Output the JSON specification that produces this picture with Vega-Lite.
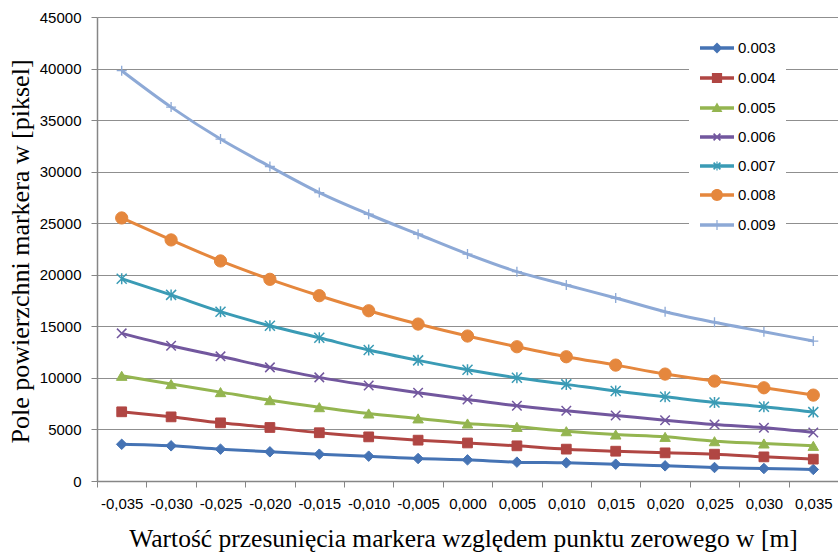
{
  "$schema": "https://vega.github.io/schema/vega-lite/v6.json",
  "width": 741,
  "height": 464,
  "autosize": {"type": "none"},
  "padding": {"left": 97, "top": 17, "right": 0, "bottom": 72},
  "background": "white",
  "config": {"view": {"stroke": null}, "font": "Liberation Sans"},
  "data": {"values": [
    {"x": "-0,035", "s": "0.003", "v": 3560}, {"x": "-0,030", "s": "0.003", "v": 3410}, {"x": "-0,025", "s": "0.003", "v": 3090}, {"x": "-0,020", "s": "0.003", "v": 2830}, {"x": "-0,015", "s": "0.003", "v": 2600}, {"x": "-0,010", "s": "0.003", "v": 2410}, {"x": "-0,005", "s": "0.003", "v": 2180}, {"x": "0,000", "s": "0.003", "v": 2050}, {"x": "0,005", "s": "0.003", "v": 1830}, {"x": "0,010", "s": "0.003", "v": 1760}, {"x": "0,015", "s": "0.003", "v": 1630}, {"x": "0,020", "s": "0.003", "v": 1470}, {"x": "0,025", "s": "0.003", "v": 1310}, {"x": "0,030", "s": "0.003", "v": 1210}, {"x": "0,035", "s": "0.003", "v": 1120},
    {"x": "-0,035", "s": "0.004", "v": 6710}, {"x": "-0,030", "s": "0.004", "v": 6220}, {"x": "-0,025", "s": "0.004", "v": 5640}, {"x": "-0,020", "s": "0.004", "v": 5190}, {"x": "-0,015", "s": "0.004", "v": 4680}, {"x": "-0,010", "s": "0.004", "v": 4280}, {"x": "-0,005", "s": "0.004", "v": 3960}, {"x": "0,000", "s": "0.004", "v": 3690}, {"x": "0,005", "s": "0.004", "v": 3410}, {"x": "0,010", "s": "0.004", "v": 3090}, {"x": "0,015", "s": "0.004", "v": 2890}, {"x": "0,020", "s": "0.004", "v": 2730}, {"x": "0,025", "s": "0.004", "v": 2600}, {"x": "0,030", "s": "0.004", "v": 2340}, {"x": "0,035", "s": "0.004", "v": 2120},
    {"x": "-0,035", "s": "0.005", "v": 10200}, {"x": "-0,030", "s": "0.005", "v": 9400}, {"x": "-0,025", "s": "0.005", "v": 8620}, {"x": "-0,020", "s": "0.005", "v": 7840}, {"x": "-0,015", "s": "0.005", "v": 7160}, {"x": "-0,010", "s": "0.005", "v": 6550}, {"x": "-0,005", "s": "0.005", "v": 6070}, {"x": "0,000", "s": "0.005", "v": 5580}, {"x": "0,005", "s": "0.005", "v": 5250}, {"x": "0,010", "s": "0.005", "v": 4830}, {"x": "0,015", "s": "0.005", "v": 4510}, {"x": "0,020", "s": "0.005", "v": 4280}, {"x": "0,025", "s": "0.005", "v": 3860}, {"x": "0,030", "s": "0.005", "v": 3640}, {"x": "0,035", "s": "0.005", "v": 3410},
    {"x": "-0,035", "s": "0.006", "v": 14320}, {"x": "-0,030", "s": "0.006", "v": 13120}, {"x": "-0,025", "s": "0.006", "v": 12090}, {"x": "-0,020", "s": "0.006", "v": 11020}, {"x": "-0,015", "s": "0.006", "v": 10050}, {"x": "-0,010", "s": "0.006", "v": 9270}, {"x": "-0,005", "s": "0.006", "v": 8560}, {"x": "0,000", "s": "0.006", "v": 7910}, {"x": "0,005", "s": "0.006", "v": 7290}, {"x": "0,010", "s": "0.006", "v": 6810}, {"x": "0,015", "s": "0.006", "v": 6360}, {"x": "0,020", "s": "0.006", "v": 5900}, {"x": "0,025", "s": "0.006", "v": 5480}, {"x": "0,030", "s": "0.006", "v": 5160}, {"x": "0,035", "s": "0.006", "v": 4710},
    {"x": "-0,035", "s": "0.007", "v": 19620}, {"x": "-0,030", "s": "0.007", "v": 18050}, {"x": "-0,025", "s": "0.007", "v": 16420}, {"x": "-0,020", "s": "0.007", "v": 15060}, {"x": "-0,015", "s": "0.007", "v": 13890}, {"x": "-0,010", "s": "0.007", "v": 12700}, {"x": "-0,005", "s": "0.007", "v": 11700}, {"x": "0,000", "s": "0.007", "v": 10790}, {"x": "0,005", "s": "0.007", "v": 10010}, {"x": "0,010", "s": "0.007", "v": 9370}, {"x": "0,015", "s": "0.007", "v": 8720}, {"x": "0,020", "s": "0.007", "v": 8170}, {"x": "0,025", "s": "0.007", "v": 7620}, {"x": "0,030", "s": "0.007", "v": 7200}, {"x": "0,035", "s": "0.007", "v": 6680},
    {"x": "-0,035", "s": "0.008", "v": 25510}, {"x": "-0,030", "s": "0.008", "v": 23380}, {"x": "-0,025", "s": "0.008", "v": 21340}, {"x": "-0,020", "s": "0.008", "v": 19560}, {"x": "-0,015", "s": "0.008", "v": 17970}, {"x": "-0,010", "s": "0.008", "v": 16510}, {"x": "-0,005", "s": "0.008", "v": 15220}, {"x": "0,000", "s": "0.008", "v": 14060}, {"x": "0,005", "s": "0.008", "v": 13020}, {"x": "0,010", "s": "0.008", "v": 12050}, {"x": "0,015", "s": "0.008", "v": 11240}, {"x": "0,020", "s": "0.008", "v": 10370}, {"x": "0,025", "s": "0.008", "v": 9690}, {"x": "0,030", "s": "0.008", "v": 9040}, {"x": "0,035", "s": "0.008", "v": 8330},
    {"x": "-0,035", "s": "0.009", "v": 39790}, {"x": "-0,030", "s": "0.009", "v": 36260}, {"x": "-0,025", "s": "0.009", "v": 33160}, {"x": "-0,020", "s": "0.009", "v": 30500}, {"x": "-0,015", "s": "0.009", "v": 27970}, {"x": "-0,010", "s": "0.009", "v": 25870}, {"x": "-0,005", "s": "0.009", "v": 23930}, {"x": "0,000", "s": "0.009", "v": 22010}, {"x": "0,005", "s": "0.009", "v": 20300}, {"x": "0,010", "s": "0.009", "v": 19010}, {"x": "0,015", "s": "0.009", "v": 17750}, {"x": "0,020", "s": "0.009", "v": 16420}, {"x": "0,025", "s": "0.009", "v": 15390}, {"x": "0,030", "s": "0.009", "v": 14480}, {"x": "0,035", "s": "0.009", "v": 13570}
  ]},
  "encoding": {
    "x": {
      "field": "x", "type": "ordinal",
      "scale": {"domain": ["-0,035", "-0,030", "-0,025", "-0,020", "-0,015", "-0,010", "-0,005", "0,000", "0,005", "0,010", "0,015", "0,020", "0,025", "0,030", "0,035"], "paddingInner": 0, "paddingOuter": 0},
      "axis": {
        "title": "Wartość przesunięcia markera względem punktu zerowego w [m]",
        "titleFont": "Liberation Serif", "titleFontSize": 25.5, "titleFontWeight": "normal", "titleColor": "black",
        "titleBaseline": "alphabetic", "titleY": 65, "titleX": 366, "titleAlign": "center",
        "labelAngle": 0, "labelFontSize": 15, "labelColor": "black", "labelPadding": 9,
        "tickBand": "extent", "tickSize": 6, "tickColor": "#868686", "domainColor": "#868686", "domainWidth": 1.5,
        "grid": false
      }
    },
    "y": {
      "field": "v", "type": "quantitative",
      "scale": {"domain": [0, 45000], "nice": false},
      "axis": {
        "title": "Pole powierzchni markera w [piksel]",
        "titleFont": "Liberation Serif", "titleFontSize": 26, "titleFontWeight": "normal", "titleColor": "black",
        "titleAngle": 270, "titleBaseline": "alphabetic", "titleX": -69, "titleY": 234, "titleAlign": "center",
        "values": [0, 5000, 10000, 15000, 20000, 25000, 30000, 35000, 40000, 45000],
        "format": "d", "labelFontSize": 15, "labelColor": "black", "labelPadding": 10,
        "tickSize": 6, "tickColor": "#868686", "domainColor": "#868686", "domainWidth": 1.5,
        "grid": true, "gridColor": "#8f8f8f", "gridWidth": 1.2
      }
    }
  },
  "layer": [
    {"transform": [{"filter": "datum.s == '0.003'"}], "mark": {"type": "line", "stroke": "#4573b4", "strokeWidth": 3, "interpolate": "monotone", "point": {"shape": "diamond", "size": 110, "fill": "#4573b4", "stroke": "#4573b4", "strokeWidth": 1, "filled": true, "opacity": 1}}},
    {"transform": [{"filter": "datum.s == '0.004'"}], "mark": {"type": "line", "stroke": "#b04643", "strokeWidth": 3, "interpolate": "monotone", "point": {"shape": "square", "size": 95, "fill": "#b04643", "stroke": "#b04643", "strokeWidth": 1, "filled": true, "opacity": 1}}},
    {"transform": [{"filter": "datum.s == '0.005'"}], "mark": {"type": "line", "stroke": "#94b550", "strokeWidth": 3, "interpolate": "monotone", "point": {"shape": "triangle-up", "size": 110, "fill": "#94b550", "stroke": "#94b550", "strokeWidth": 1, "filled": true, "opacity": 1}}},
    {"transform": [{"filter": "datum.s == '0.006'"}], "mark": {"type": "line", "stroke": "#72579e", "strokeWidth": 3, "interpolate": "monotone", "point": {"shape": "M-1,-1L1,1M-1,1L1,-1", "size": 90, "fill": "#72579e", "stroke": "#72579e", "strokeWidth": 1.5, "filled": true, "opacity": 1}}},
    {"transform": [{"filter": "datum.s == '0.007'"}], "mark": {"type": "line", "stroke": "#3a9bb5", "strokeWidth": 3, "interpolate": "monotone", "point": {"shape": "M-1,-1L1,1M-1,1L1,-1M0,-1.1V1.1", "size": 100, "fill": "#3a9bb5", "stroke": "#3a9bb5", "strokeWidth": 1.5, "filled": true, "opacity": 1}}},
    {"transform": [{"filter": "datum.s == '0.008'"}], "mark": {"type": "line", "stroke": "#e5873d", "strokeWidth": 3, "interpolate": "monotone", "point": {"shape": "circle", "size": 150, "fill": "#e5873d", "stroke": "#e5873d", "strokeWidth": 1, "filled": true, "opacity": 1}}},
    {"transform": [{"filter": "datum.s == '0.009'"}], "mark": {"type": "line", "stroke": "#8da9d6", "strokeWidth": 3, "interpolate": "monotone", "point": {"shape": "M-1,0H1M0,-1V1", "size": 100, "fill": "#8da9d6", "stroke": "#8da9d6", "strokeWidth": 1.3, "filled": true, "opacity": 1}}},
    {
      "transform": [{"filter": "datum.v < 0"}],
      "mark": {"type": "point", "filled": true, "size": 1156, "opacity": 1, "strokeWidth": 0},
      "encoding": {
        "color": {
          "field": "s", "type": "nominal",
          "scale": {"domain": ["0.003", "0.004", "0.005", "0.006", "0.007", "0.008", "0.009"], "range": ["#4573b4", "#b04643", "#94b550", "#72579e", "#3a9bb5", "#e5873d", "#8da9d6"]},
          "legend": {
            "title": null, "orient": "none", "legendX": 592, "legendY": 3,
            "fillColor": "white", "padding": 10, "labelFontSize": 15, "labelColor": "black", "labelOffset": 3,
            "symbolSize": 1156, "symbolOpacity": 1, "rowPadding": 3
          }
        },
        "shape": {
          "field": "s", "type": "nominal",
          "scale": {"domain": ["0.003", "0.004", "0.005", "0.006", "0.007", "0.008", "0.009"], "range": [
            "M-1,-0.1H1V0.1H-1ZM0,-0.32L0.32,0L0,0.32L-0.32,0Z",
            "M-1,-0.1H1V0.1H-1ZM-0.3,-0.3H0.3V0.3H-0.3Z",
            "M-1,-0.1H1V0.1H-1ZM0,-0.32L0.32,0.24L-0.32,0.24Z",
            "M-1,-0.1H1V0.1H-1ZM-0.165,-0.235L0.235,0.165L0.165,0.235L-0.235,-0.165ZM-0.235,0.165L0.165,-0.235L0.235,-0.165L-0.165,0.235Z",
            "M-1,-0.1H1V0.1H-1ZM-0.165,-0.235L0.235,0.165L0.165,0.235L-0.235,-0.165ZM-0.235,0.165L0.165,-0.235L0.235,-0.165L-0.165,0.235ZM-0.035,-0.27H0.035V0.27H-0.035Z",
            "M-1,-0.1H1V0.1H-1ZM-0.35,0A0.35,0.35 0 1,1 0.35,0A0.35,0.35 0 1,1 -0.35,0Z",
            "M-1,-0.1H1V0.1H-1ZM-0.035,-0.3H0.035V0.3H-0.035Z"
          ]},
          "legend": {
            "title": null, "orient": "none", "legendX": 592, "legendY": 3,
            "fillColor": "white", "padding": 10, "labelFontSize": 15, "labelColor": "black", "labelOffset": 3,
            "symbolSize": 1156, "symbolOpacity": 1, "rowPadding": 3
          }
        }
      }
    }
  ]
}
